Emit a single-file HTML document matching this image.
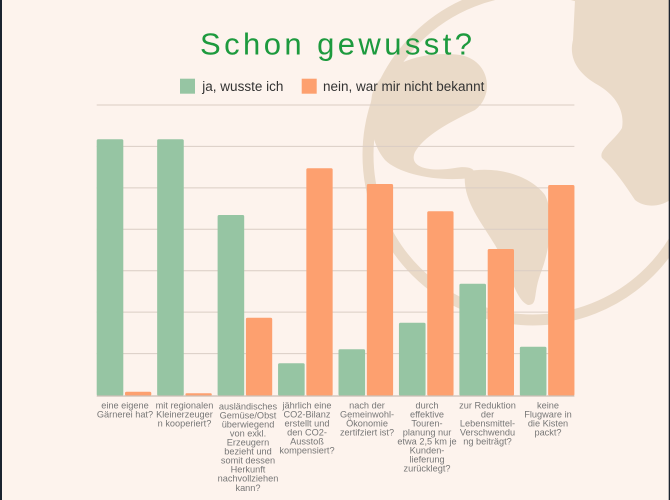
<!DOCTYPE html>
<html><head><meta charset="utf-8"><style>
html,body{margin:0;padding:0;background:#fdf3ed;}
svg{display:block;}
</style></head><body>
<svg width="670" height="500" viewBox="0 0 670 500" xmlns="http://www.w3.org/2000/svg">
<rect x="0" y="0" width="670" height="500" fill="#fdf3ed"/>
<!-- globe -->
<g fill="#eadac8">
<path d="M372 95 C380 65,420 50,460 55 C490 60,495 95,475 110 C450 122,425 135,415 152 C408 168,430 172,455 168 C470 165,480 170,470 178 C440 182,400 175,385 160 C372 145,368 120,372 95 Z"/>
<path d="M465 172 C495 165,530 175,545 195 C555 215,550 250,540 275 C533 295,538 305,528 305 C515 300,510 270,495 245 C480 220,462 200,465 172 Z"/>
<path d="M575 0 L670 0 L670 200 C660 207,645 208,635 200 C625 185,615 170,602 158 C598 150,615 140,622 128 C625 110,615 95,598 85 C580 75,568 60,573 40 Z"/>
</g>
<circle cx="533" cy="155" r="165" fill="none" stroke="#eadac8" stroke-width="11"/>
<!-- title -->
<text x="200" y="54.5" font-family="Liberation Sans, sans-serif" font-size="31" fill="#1d9a3e" textLength="272" lengthAdjust="spacing">Schon gewusst?</text>
<!-- legend -->
<rect x="180" y="78.7" width="15" height="15" fill="#96c5a3"/>
<text x="202.3" y="91" font-family="Liberation Sans, sans-serif" font-size="13.5" fill="#333">ja, wusste ich</text>
<rect x="301.7" y="78.7" width="15" height="15" fill="#fda06f"/>
<text x="323" y="91" font-family="Liberation Sans, sans-serif" font-size="13.5" fill="#333">nein, war mir nicht bekannt</text>
<!-- grid -->
<g stroke="#dacdc4" stroke-width="1">
<line x1="96.7" x2="574.4" y1="105" y2="105"/>
<line x1="96.7" x2="574.4" y1="146.4" y2="146.4"/>
<line x1="96.7" x2="574.4" y1="187.9" y2="187.9"/>
<line x1="96.7" x2="574.4" y1="229.3" y2="229.3"/>
<line x1="96.7" x2="574.4" y1="270.7" y2="270.7"/>
<line x1="96.7" x2="574.4" y1="312.1" y2="312.1"/>
<line x1="96.7" x2="574.4" y1="353.6" y2="353.6"/>
</g>
<!-- bars -->
<g fill="#96c5a3">
<rect x="96.7" y="139.3" width="26.6" height="256.5" rx="1.5"/>
<rect x="157.15" y="139.3" width="26.6" height="256.5" rx="1.5"/>
<rect x="217.6" y="215" width="26.6" height="180.8" rx="1.5"/>
<rect x="278.05" y="363.3" width="26.6" height="32.5" rx="1.5"/>
<rect x="338.5" y="349.3" width="26.6" height="46.5" rx="1.5"/>
<rect x="398.95" y="322.7" width="26.6" height="73.1" rx="1.5"/>
<rect x="459.4" y="283.7" width="26.6" height="112.1" rx="1.5"/>
<rect x="519.85" y="346.7" width="26.6" height="49.1" rx="1.5"/>
</g>
<g fill="#fda06f">
<rect x="125" y="391.7" width="26.3" height="4.1" rx="1.5"/>
<rect x="185.45" y="393.3" width="26.3" height="2.5" rx="1"/>
<rect x="245.9" y="317.7" width="26.3" height="78.1" rx="1.5"/>
<rect x="306.35" y="168.3" width="26.3" height="227.5" rx="1.5"/>
<rect x="366.8" y="184" width="26.3" height="211.8" rx="1.5"/>
<rect x="427.25" y="211.3" width="26.3" height="184.5" rx="1.5"/>
<rect x="487.7" y="249" width="26.3" height="146.8" rx="1.5"/>
<rect x="548.15" y="185" width="26.3" height="210.8" rx="1.5"/>
</g>
<line x1="96.7" x2="574.4" y1="396" y2="396" stroke="#cbbfb6" stroke-width="1.3"/>
<!-- labels -->
<g font-family="Liberation Sans, sans-serif" font-size="9.2" fill="#777777" text-anchor="middle">
<text x="125" y="408.5"><tspan x="125">eine eigene</tspan><tspan x="125" dy="9.03">Gärnerei hat?</tspan></text>
<text x="184.5" y="408.5"><tspan x="184.5">mit regionalen</tspan><tspan x="184.5" dy="9.03">Kleinerzeuger</tspan><tspan x="184.5" dy="9.03">n kooperiert?</tspan></text>
<text x="248" y="409.5"><tspan x="248">ausländisches</tspan><tspan x="248" dy="9.03">Gemüse/Obst</tspan><tspan x="248" dy="9.03">überwiegend</tspan><tspan x="248" dy="9.03">von exkl.</tspan><tspan x="248" dy="9.03">Erzeugern</tspan><tspan x="248" dy="9.03">bezieht und</tspan><tspan x="248" dy="9.03">somit dessen</tspan><tspan x="248" dy="9.03">Herkunft</tspan><tspan x="248" dy="9.03">nachvollziehen</tspan><tspan x="248" dy="9.03">kann?</tspan></text>
<text x="307" y="408.5"><tspan x="307">jährlich eine</tspan><tspan x="307" dy="9.03">CO2-Bilanz</tspan><tspan x="307" dy="9.03">erstellt und</tspan><tspan x="307" dy="9.03">den CO2-</tspan><tspan x="307" dy="9.03">Ausstoß</tspan><tspan x="307" dy="9.03">kompensiert?</tspan></text>
<text x="367" y="408.5"><tspan x="367">nach der</tspan><tspan x="367" dy="9.03">Gemeinwohl-</tspan><tspan x="367" dy="9.03">Ökonomie</tspan><tspan x="367" dy="9.03">zertifziert ist?</tspan></text>
<text x="427" y="408.5"><tspan x="427">durch</tspan><tspan x="427" dy="9.03">effektive</tspan><tspan x="427" dy="9.03">Touren-</tspan><tspan x="427" dy="9.03">planung nur</tspan><tspan x="427" dy="9.03">etwa 2,5 km je</tspan><tspan x="427" dy="9.03">Kunden-</tspan><tspan x="427" dy="9.03">lieferung</tspan><tspan x="427" dy="9.03">zurücklegt?</tspan></text>
<text x="487.5" y="408.5"><tspan x="487.5">zur Reduktion</tspan><tspan x="487.5" dy="9.03">der</tspan><tspan x="487.5" dy="9.03">Lebensmittel-</tspan><tspan x="487.5" dy="9.03">Verschwendu</tspan><tspan x="487.5" dy="9.03">ng beiträgt?</tspan></text>
<text x="548" y="408.5"><tspan x="548">keine</tspan><tspan x="548" dy="9.03">Flugware in</tspan><tspan x="548" dy="9.03">die Kisten</tspan><tspan x="548" dy="9.03">packt?</tspan></text>
</g>
<!-- edges -->
<rect x="0" y="0" width="2" height="500" fill="#1b2430"/>
<rect x="668.7" y="0" width="1.3" height="500" fill="#1b2430"/>
</svg>
</body></html>
